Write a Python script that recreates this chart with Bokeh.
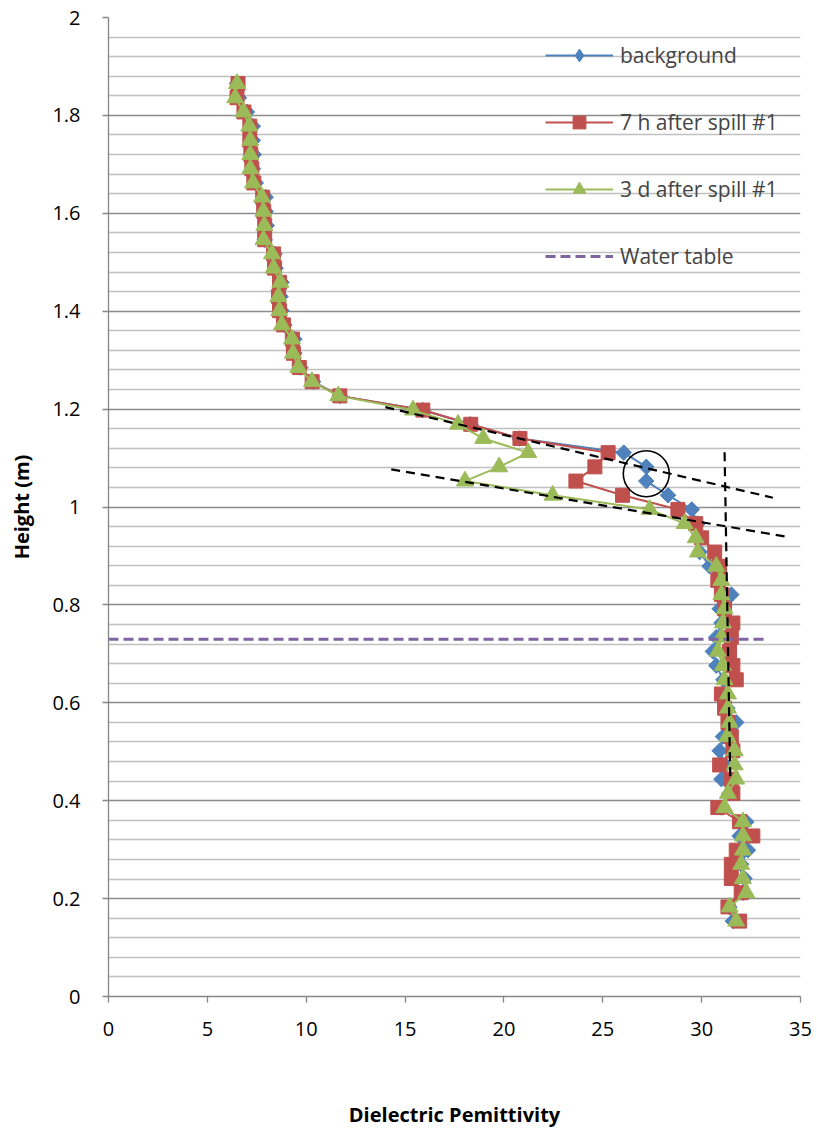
import numpy as np
from bokeh.plotting import figure
from bokeh.models import Range1d, FixedTicker, Legend, LegendItem
from bokeh.embed import file_html
from bokeh.resources import INLINE

# ---------------- data ----------------
height_m = [1.865, 1.836, 1.807, 1.778, 1.749, 1.720, 1.691, 1.662, 1.633, 1.604,
            1.575, 1.546, 1.517, 1.488, 1.459, 1.430, 1.401, 1.372, 1.343, 1.314,
            1.285, 1.256, 1.227, 1.198, 1.169, 1.140, 1.111, 1.082, 1.053, 1.024,
            0.995, 0.966, 0.937, 0.908, 0.879, 0.850, 0.821, 0.792, 0.763, 0.734,
            0.705, 0.676, 0.647, 0.618, 0.589, 0.560, 0.531, 0.502, 0.473, 0.444,
            0.415, 0.386, 0.357, 0.328, 0.299, 0.270, 0.241, 0.212, 0.183, 0.154]

background = [6.50, 6.60, 7.00, 7.30, 7.30, 7.35, 7.30, 7.45, 7.95, 7.95,
              8.00, 7.90, 8.40, 8.45, 8.75, 8.70, 8.75, 8.90, 9.40, 9.40,
              9.70, 10.35, 11.70, 15.90, 18.30, 20.80, 26.06, 27.20, 27.20, 28.30,
              29.50, 29.80, 29.90, 29.90, 30.40, 30.90, 31.50, 30.91, 31.00, 30.74,
              30.57, 30.74, 31.10, 31.20, 31.30, 31.75, 31.08, 30.91, 31.20, 31.00,
              31.40, 31.00, 32.26, 31.92, 32.34, 32.00, 32.17, 32.10, 31.40, 31.58]

after_7h = [6.55, 6.50, 6.85, 7.15, 7.15, 7.20, 7.25, 7.35, 7.80, 7.85,
            7.90, 7.90, 8.35, 8.40, 8.65, 8.60, 8.65, 8.85, 9.30, 9.35,
            9.65, 10.30, 11.70, 15.90, 18.32, 20.81, 25.27, 24.60, 23.64, 26.00,
            28.80, 29.70, 30.00, 30.66, 30.91, 30.82, 31.00, 31.16, 31.58, 31.50,
            31.41, 31.58, 31.75, 31.00, 31.16, 31.33, 31.50, 31.58, 30.91, 31.50,
            31.58, 30.82, 31.92, 32.59, 31.75, 31.50, 31.50, 32.00, 31.33, 31.92]

after_3d = [6.50, 6.41, 6.83, 7.12, 7.17, 7.17, 7.17, 7.31, 7.76, 7.83,
            7.88, 7.84, 8.27, 8.35, 8.69, 8.59, 8.64, 8.77, 9.28, 9.33,
            9.60, 10.29, 11.62, 15.40, 17.68, 18.95, 21.23, 19.76, 18.03, 22.46,
            27.37, 29.14, 29.70, 29.81, 30.74, 31.00, 31.00, 31.16, 31.08, 31.00,
            30.82, 31.08, 31.16, 31.33, 31.33, 31.41, 31.30, 31.67, 31.67, 31.75,
            31.33, 31.16, 32.09, 32.09, 32.09, 32.00, 32.09, 32.26, 31.41, 31.75]

series_labels = ["background", "7 h after spill #1", "3 d after spill #1", "Water table"]

water_table_level = 0.73
water_table_x = [0.0, 33.2]

# hand-drawn annotation guides
guide_upper_x = [14.0, 33.6]
guide_upper_y = [1.204, 1.019]
guide_lower_x = [14.3, 34.2]
guide_lower_y = [1.077, 0.940]
guide_vertical_x = [31.16, 31.45]
guide_vertical_y = [1.112, 0.440]
circle_x = [27.2]
circle_y = [1.068]

x_ticks = [0, 5, 10, 15, 20, 25, 30, 35]
y_ticks = [0, 0.2, 0.4, 0.6, 0.8, 1, 1.2, 1.4, 1.6, 1.8, 2]
y_tick_labels = ["0", "0.2", "0.4", "0.6", "0.8", "1", "1.2", "1.4", "1.6", "1.8", "2"]

# ---------------- figure ----------------
FONT = "Open Sans"
p = figure(width=817, height=1140, output_backend="svg", toolbar_location=None,
           x_range=Range1d(0, 35), y_range=Range1d(0, 2),
           min_border_left=108, min_border_right=17, min_border_top=17,
           min_border_bottom=144)
p.outline_line_color = None
p.background_fill_color = "white"

y_minor = [round(v, 2) for v in np.arange(0, 2.0001, 0.04) if abs(v / 0.2 - round(v / 0.2)) > 1e-6]
p.yaxis.ticker = FixedTicker(ticks=y_ticks, minor_ticks=y_minor)
p.yaxis.major_label_overrides = {t: s for t, s in zip(y_ticks, y_tick_labels)}
p.xaxis.ticker = FixedTicker(ticks=x_ticks)

p.xgrid.visible = False
p.ygrid.grid_line_color = "#8C8C8C"
p.ygrid.grid_line_width = 1.3
p.ygrid.minor_grid_line_color = "#C0C0C0"
p.ygrid.minor_grid_line_width = 1.3

for ax in (p.xaxis[0], p.yaxis[0]):
    ax.axis_line_color = "#868686"
    ax.axis_line_width = 1.3
    ax.major_tick_line_color = "#868686"
    ax.major_tick_line_width = 1.3
    ax.major_tick_in = 0
    ax.major_tick_out = 6
    ax.minor_tick_line_color = None
    ax.major_label_text_font = FONT
    ax.major_label_text_font_size = "20px"
    ax.major_label_text_color = "black"
    ax.axis_label_text_font = FONT
    ax.axis_label_text_font_style = "bold"
    ax.axis_label_text_font_size = "20px"
    ax.axis_label_text_color = "black"

p.xaxis.major_label_standoff = 19
p.xaxis.axis_label = "Dielectric Pemittivity"
p.xaxis.axis_label_standoff = 62
p.yaxis.major_label_standoff = 22
p.yaxis.axis_label = "Height (m)"
p.yaxis.axis_label_standoff = 14

BLUE, RED, GREEN, PURPLE = "#4F81BD", "#C0504D", "#9BBB59", "#8064A2"

l1 = p.line(background, height_m, line_color=BLUE, line_width=2)
# diamond glyph (used for the legend symbol), covered by the rotated squares below
d1 = p.scatter(background, height_m, marker="diamond", size=14,
               fill_color=BLUE, line_color=BLUE)
s1 = p.scatter(background, height_m, marker="square", angle=np.pi / 4, size=11,
               fill_color=BLUE, line_color=BLUE)
l2 = p.line(after_7h, height_m, line_color=RED, line_width=2)
s2 = p.scatter(after_7h, height_m, marker="square", size=14,
               fill_color=RED, line_color=RED)
l3 = p.line(after_3d, height_m, line_color=GREEN, line_width=2)
s3 = p.scatter(after_3d, height_m, marker="triangle", size=17,
               fill_color=GREEN, line_color=GREEN)

l4 = p.line(water_table_x, [water_table_level, water_table_level],
            line_color=PURPLE, line_width=3, line_dash="10 5")

# annotation guides
p.line(guide_upper_x, guide_upper_y, line_color="black", line_width=2.2, line_dash="9 6")
p.line(guide_lower_x, guide_lower_y, line_color="black", line_width=2.2, line_dash="9 6")
p.line(guide_vertical_x, guide_vertical_y, line_color="black", line_width=2.2, line_dash="9 6")
p.scatter(circle_x, circle_y, marker="circle", size=46, fill_color=None,
          line_color="black", line_width=1.6)

legend = Legend(items=[LegendItem(label=series_labels[0], renderers=[l1, d1]),
                       LegendItem(label=series_labels[1], renderers=[l2, s2]),
                       LegendItem(label=series_labels[2], renderers=[l3, s3]),
                       LegendItem(label=series_labels[3], renderers=[l4])],
                location=(437, 724), padding=0, margin=0, spacing=35,
                glyph_width=68, glyph_height=32, label_height=32,
                label_standoff=7, label_text_font=FONT, label_text_font_size="21px",
                label_text_baseline="middle",
                border_line_color=None, background_fill_alpha=0)
p.add_layout(legend)

open("out.html", "w").write(file_html(p, INLINE))
